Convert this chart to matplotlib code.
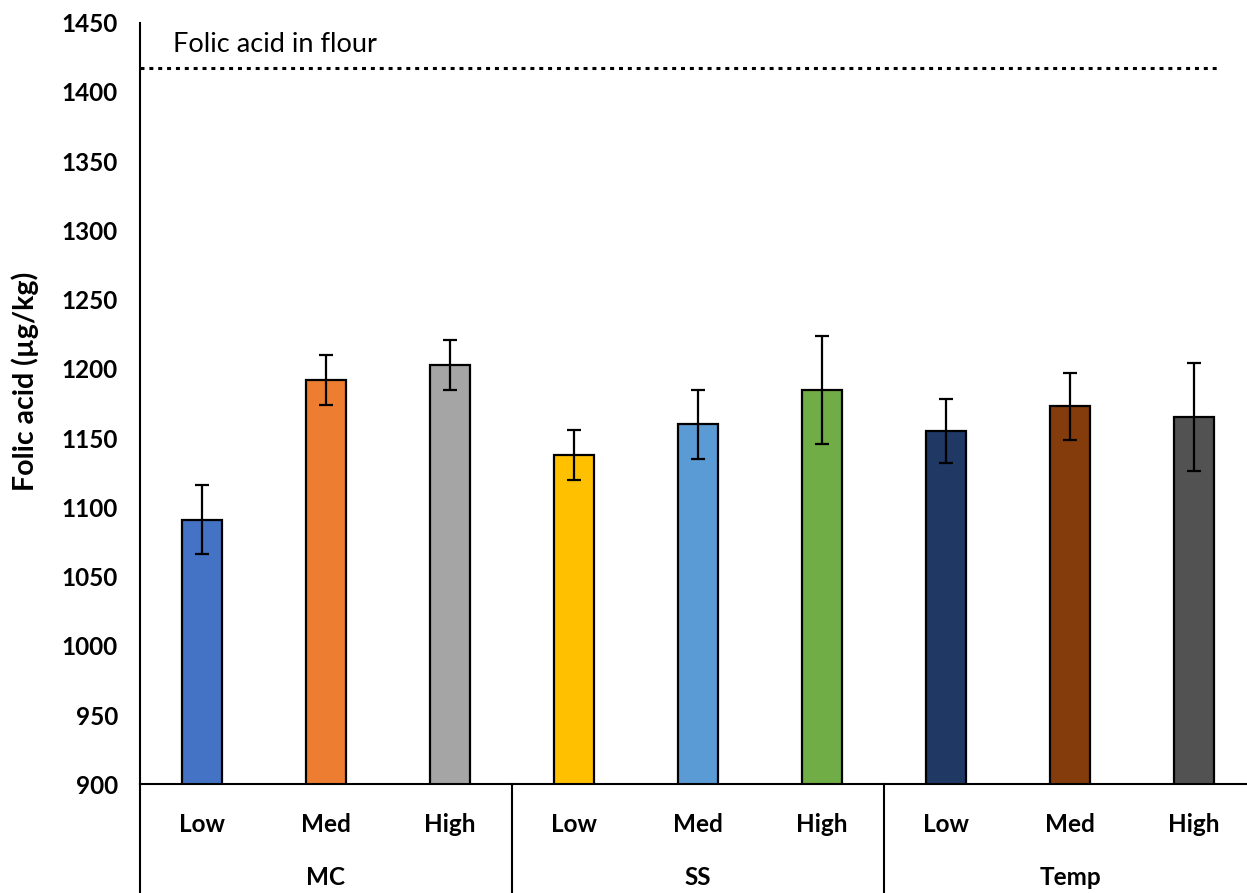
import numpy as np
import matplotlib
matplotlib.use("Agg")
import matplotlib.pyplot as plt
import matplotlib.transforms as mtransforms

plt.rcParams["font.family"] = ["Lato", "DejaVu Sans"]

# Folic acid retained after processing, grouped by factor and level
groups = ["MC", "SS", "Temp"]
levels = ["Low", "Med", "High"]
means = [1091, 1192, 1203, 1138, 1160, 1185, 1155, 1173, 1165]
errors = [25, 18, 18, 18, 25, 39, 23, 24, 39]
colors = ["#4472C4", "#ED7D31", "#A5A5A5",
          "#FFC000", "#5B9BD5", "#70AD47",
          "#203864", "#843C0C", "#525252"]
flour_level = 1417
flour_label = "Folic acid in flour"

W, H = 1247, 893
AX_W = 1116  # plot area runs slightly past the right edge
fig = plt.figure(figsize=(W / 100, H / 100), dpi=100)
ax = fig.add_axes([140 / W, (H - 784.3) / H, AX_W / W, 761.6 / H])

x = np.arange(len(means))
ax.bar(x, means, width=0.325, bottom=0, color=colors,
       edgecolor="black", linewidth=1.6, zorder=2)
ax.errorbar(x, means, yerr=errors, fmt="none", ecolor="black",
            elinewidth=1.6, capsize=5, capthick=1.6, zorder=3)

ax.set_ylim(900, 1450)
ax.set_xlim(-0.5, len(means) - 0.5)
ax.set_yticks(np.arange(900, 1451, 50))
ax.tick_params(axis="y", length=0, pad=16, labelsize=17.5)
for lbl in ax.get_yticklabels():
    lbl.set_fontweight("bold")

ax.set_xticks(x)
ax.set_xticklabels(levels * len(groups), fontsize=17.5, fontweight="bold")
ax.tick_params(axis="x", length=0, pad=21)

for side in ["top", "right"]:
    ax.spines[side].set_visible(False)
for side in ["left", "bottom"]:
    ax.spines[side].set_linewidth(1.5)

# reference line for folic acid in the flour
ax.axhline(flour_level, xmin=0, xmax=(1220 - 140) / AX_W, color="black",
           linewidth=2.2, linestyle=(0, (1.3, 1.6)), dash_capstyle="butt",
           zorder=1)
ax.text(-0.235, 1434, flour_label, fontsize=19.5, va="center", ha="left")

# multi-level category axis: group labels and separators
trans = mtransforms.blended_transform_factory(ax.transData, ax.transAxes)
depth = -108.7 / 761.6
n = len(levels)
for i, g in enumerate(groups):
    ax.text(i * n + (n - 1) / 2, -93 / 761.6, g, transform=trans,
            ha="center", va="center", fontsize=17.5, fontweight="bold")
for xs in [-0.5] + [i * n - 0.5 for i in range(1, len(groups))]:
    ax.plot([xs, xs], [0, depth], transform=trans, color="black",
            linewidth=1.5, clip_on=False)

fig.text(25 / W, 1 - 381 / H, "Folic acid (µg/kg)", rotation=90,
         ha="center", va="center", fontsize=20.5, fontweight="bold")

fig.savefig("out.png", dpi=100)
